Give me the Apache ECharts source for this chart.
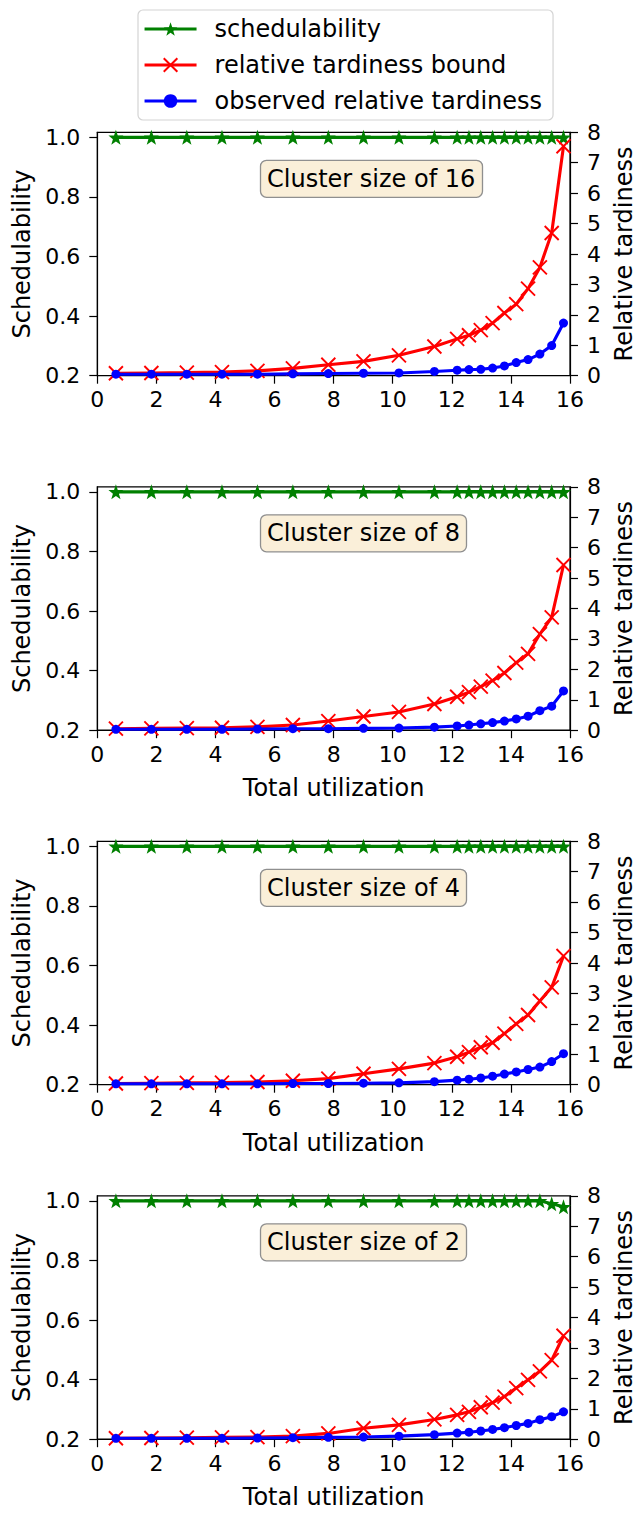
<!DOCTYPE html>
<html>
<head>
<meta charset="utf-8">
<script src="https://cdn.jsdelivr.net/npm/echarts@6/dist/echarts.min.js"></script>
<style>
html,body{margin:0;padding:0;background:#fff;}
#chart{width:644px;height:1515px;}
</style>
</head>
<body>
<div id="chart"></div>
<script>
// ---------- data ----------
const utilization = [0.63, 1.83, 3.03, 4.22, 5.42, 6.62, 7.82, 9.01, 10.21, 11.41, 12.18, 12.58, 12.98, 13.38, 13.78, 14.18, 14.58, 14.98, 15.38, 15.78];
const clusterLabels = ['Cluster size of 16', 'Cluster size of 8', 'Cluster size of 4', 'Cluster size of 2'];
const seriesNames = ['schedulability', 'relative tardiness bound', 'observed relative tardiness'];

const sched16 = [1,1,1,1,1,1,1,1,1,1,1,1,1,1,1,1,1,1,1,1];
const bound16 = [0.08,0.09,0.10,0.12,0.16,0.24,0.36,0.47,0.67,0.96,1.21,1.33,1.50,1.73,2.06,2.35,2.86,3.56,4.69,7.54];
const obs16   = [0.05,0.05,0.05,0.05,0.05,0.06,0.07,0.08,0.09,0.14,0.18,0.20,0.21,0.25,0.32,0.43,0.53,0.71,0.99,1.73];

const sched8 = [1,1,1,1,1,1,1,1,1,1,1,1,1,1,1,1,1,1,1,1];
const bound8 = [0.05,0.06,0.07,0.08,0.11,0.17,0.30,0.45,0.60,0.86,1.10,1.25,1.43,1.63,1.88,2.22,2.51,3.16,3.71,5.43];
const obs8   = [0.03,0.03,0.03,0.03,0.04,0.05,0.05,0.06,0.07,0.10,0.14,0.17,0.21,0.25,0.30,0.37,0.46,0.64,0.79,1.29];

const sched4 = [1,1,1,1,1,1,1,1,1,1,1,1,1,1,1,1,1,1,1,1];
const bound4 = [0.04,0.05,0.06,0.07,0.09,0.13,0.20,0.36,0.52,0.71,0.92,1.07,1.23,1.38,1.68,2.00,2.29,2.75,3.20,4.23];
const obs4   = [0.03,0.03,0.03,0.03,0.03,0.04,0.04,0.05,0.06,0.10,0.15,0.18,0.22,0.28,0.35,0.42,0.50,0.58,0.76,1.02];

const sched2 = [1,1,1,1,1,1,1,1,1,1,1,1,1,1,1,1,1,1,0.99,0.98];
const bound2 = [0.03,0.04,0.05,0.06,0.07,0.10,0.19,0.36,0.47,0.65,0.80,0.90,1.05,1.20,1.40,1.68,1.95,2.23,2.60,3.40];
const obs2   = [0.03,0.03,0.03,0.03,0.04,0.05,0.06,0.07,0.10,0.15,0.20,0.23,0.27,0.32,0.38,0.45,0.52,0.64,0.74,0.90];

const xTicks = [0, 2, 4, 6, 8, 10, 12, 14, 16];
const leftTicks = [0.2, 0.4, 0.6, 0.8, 1.0];
const rightTicks = [0, 1, 2, 3, 4, 5, 6, 7, 8];

const panels = [
  {label: clusterLabels[0], sched: sched16, bound: bound16, obs: obs16, xName: ''},
  {label: clusterLabels[1], sched: sched8, bound: bound8, obs: obs8, xName: 'Total utilization'},
  {label: clusterLabels[2], sched: sched4, bound: bound4, obs: obs4, xName: 'Total utilization'},
  {label: clusterLabels[3], sched: sched2, bound: bound2, obs: obs2, xName: 'Total utilization'}
];

// ---------- styling ----------
const FONT = 'DejaVu Sans';
const TICK_FS = 22;
const LABEL_FS = 24;
const PLOT_LEFT = 97.3, PLOT_RIGHT = 644 - 584, PLOT_H = 243.4, TOP0 = 132.3, STEP = 354.5;
const STAR = 'path://M0,-10L2.35,-3.24L9.51,-3.09L3.8,1.24L5.88,8.09L0,4L-5.88,8.09L-3.8,1.24L-9.51,-3.09L-2.35,-3.24Z';
const CROSS = 'path://M0,0L10,10M0,10L10,0';
const LW = 3.1;

const zip = (ys) => utilization.map((x, i) => [x, ys[i]]);

const grids = [], xAxes = [], yAxes = [], series = [], titles = [];
const axisLine = {show: true, lineStyle: {color: '#000', width: 1.2}};
const axisTick = {show: true, inside: false, length: 8, lineStyle: {color: '#000', width: 1.2}};

panels.forEach((p, i) => {
  const top = TOP0 + STEP * i;
  grids.push({left: PLOT_LEFT, right: PLOT_RIGHT, top: top, height: PLOT_H,
    show: true, borderColor: '#000', borderWidth: 1.2, backgroundColor: 'transparent'});
  xAxes.push({type: 'value', gridIndex: i, min: 0, max: 16, interval: 2,
    axisLine, axisTick, splitLine: {show: false},
    axisLabel: {color: '#000', fontFamily: FONT, fontSize: TICK_FS, margin: 13, customValues: xTicks},
    name: p.xName, nameLocation: 'middle', nameGap: 46,
    nameTextStyle: {color: '#000', fontFamily: FONT, fontSize: LABEL_FS}});
  yAxes.push({type: 'value', gridIndex: i, position: 'left', min: 0.2, max: 1.017,
    axisLine, axisTick: Object.assign({}, axisTick, {customValues: leftTicks}), splitLine: {show: false},
    axisLabel: {color: '#000', fontFamily: FONT, fontSize: TICK_FS, margin: 17, customValues: leftTicks,
      formatter: (v) => v.toFixed(1)},
    name: 'Schedulability', nameLocation: 'middle', nameGap: 62, nameRotate: 90,
    nameTextStyle: {color: '#000', fontFamily: FONT, fontSize: LABEL_FS}});
  yAxes.push({type: 'value', gridIndex: i, position: 'right', min: 0, max: 8, interval: 1,
    axisLine, axisTick, splitLine: {show: false},
    axisLabel: {color: '#000', fontFamily: FONT, fontSize: TICK_FS, margin: 17, customValues: rightTicks},
    name: 'Relative tardiness', nameLocation: 'middle', nameGap: 42, nameRotate: 90,
    nameTextStyle: {color: '#000', fontFamily: FONT, fontSize: LABEL_FS}});

  series.push({type: 'line', name: seriesNames[0], xAxisIndex: i, yAxisIndex: 2 * i,
    data: zip(p.sched), symbol: STAR, symbolSize: 15,
    lineStyle: {color: '#008000', width: LW}, itemStyle: {color: '#008000'}, z: 2});
  series.push({type: 'line', name: seriesNames[1], xAxisIndex: i, yAxisIndex: 2 * i + 1,
    data: zip(p.bound), symbol: CROSS, symbolSize: 14,
    lineStyle: {color: '#ff0000', width: LW}, itemStyle: {color: '#ff0000', borderColor: '#ff0000', borderWidth: 1.9}, z: 3});
  series.push({type: 'line', name: seriesNames[2], xAxisIndex: i, yAxisIndex: 2 * i + 1,
    data: zip(p.obs), symbol: 'circle', symbolSize: 9,
    lineStyle: {color: '#0000ff', width: LW}, itemStyle: {color: '#0000ff', borderWidth: 0}, z: 4});

  titles.push({text: p.label, left: 260, top: top + 27.5,
    backgroundColor: '#faefd9', borderColor: '#8f8f8f', borderWidth: 1.3, borderRadius: 6,
    padding: [6, 7, 6, 7],
    textStyle: {color: '#000', fontFamily: FONT, fontSize: LABEL_FS, fontWeight: 'normal', lineHeight: 26}});
});

const option = {
  animation: false,
  backgroundColor: '#fff',
  title: titles,
  legend: {
    data: seriesNames, orient: 'vertical', left: 138, top: 10,
    padding: [5, 11, 5, 5], itemGap: 8, itemWidth: 52, itemHeight: 17,
    borderColor: '#d4d4d4', borderWidth: 1.2, borderRadius: 5, backgroundColor: '#fff',
    selectedMode: false,
    lineStyle: {width: 3.1},
    textStyle: {color: '#000', fontFamily: FONT, fontSize: LABEL_FS, lineHeight: 28, padding: [0, 0, 0, 13]}
  },
  grid: grids, xAxis: xAxes, yAxis: yAxes, series: series
};

const chart = echarts.init(document.getElementById('chart'), null, {renderer: 'svg'});
chart.setOption(option);
</script>
</body>
</html>
